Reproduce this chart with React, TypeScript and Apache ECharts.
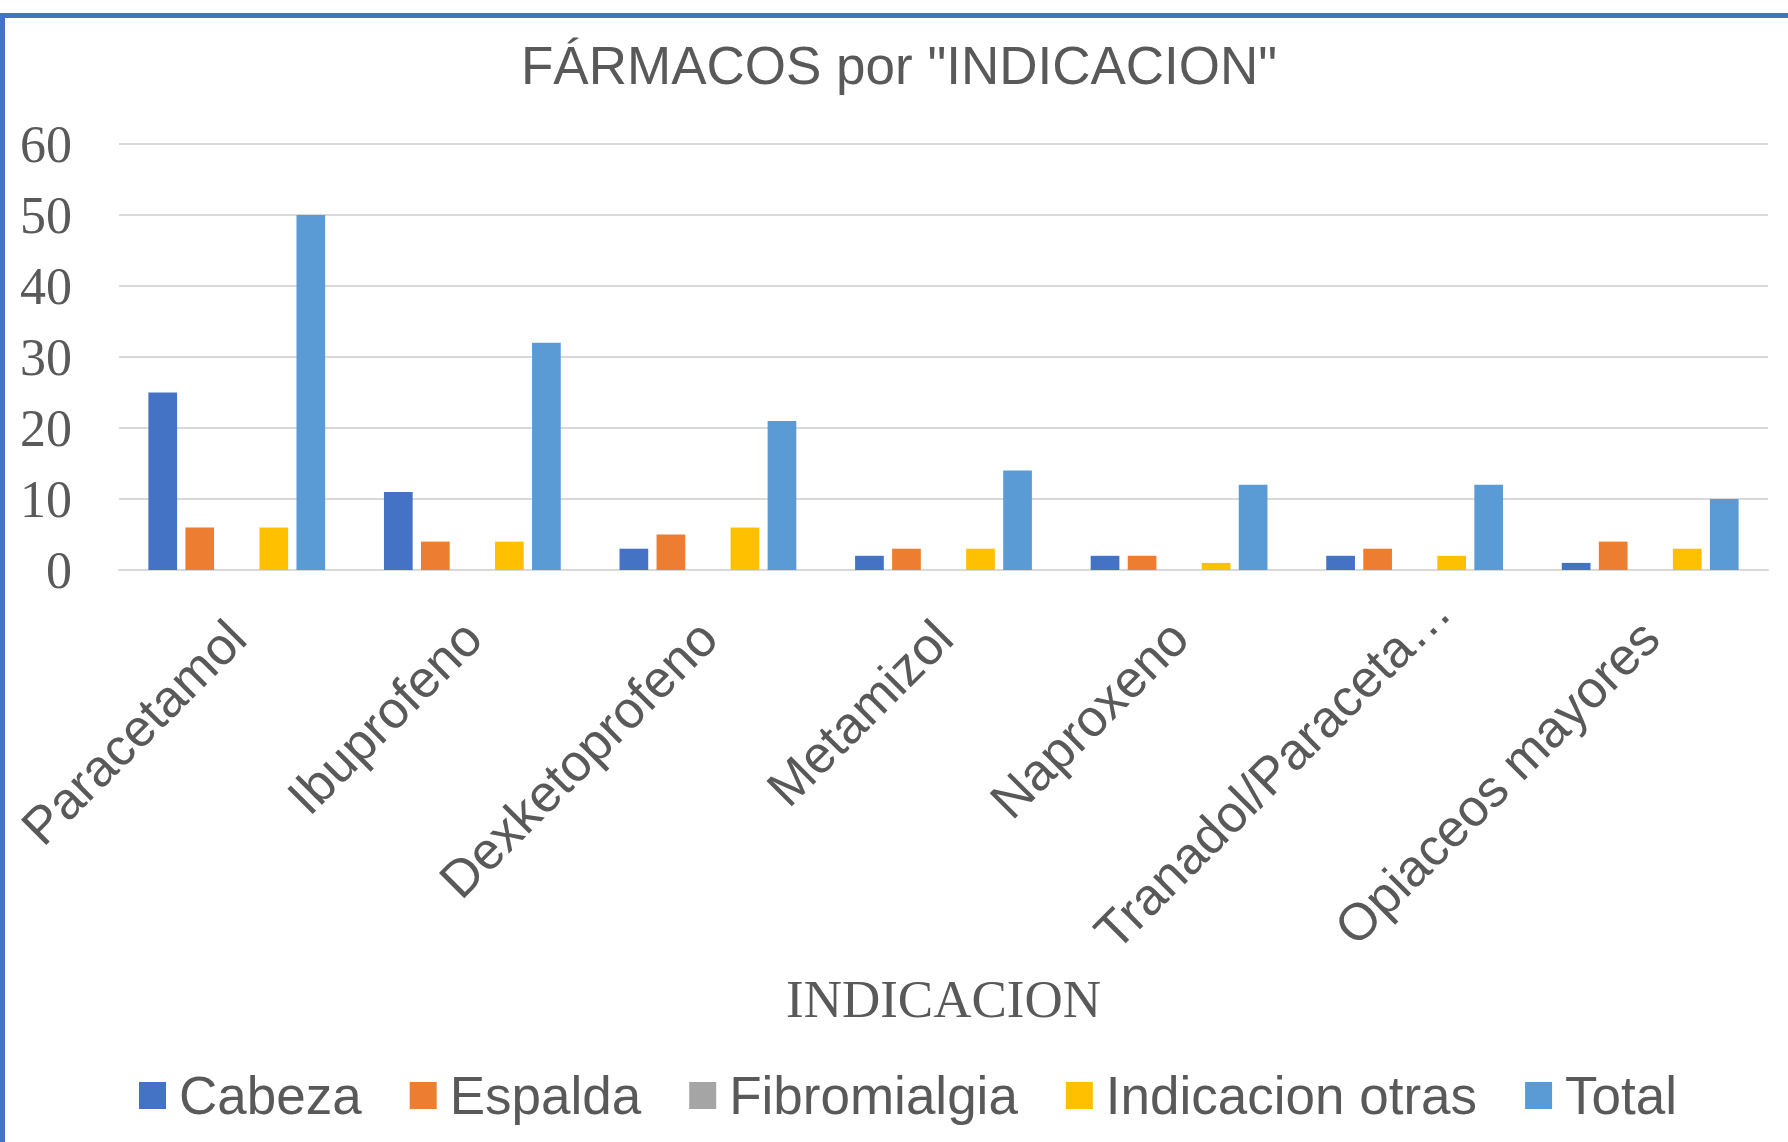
import React, { useEffect, useRef } from "react";
import * as echarts from "echarts";

const categories = [
  "Paracetamol",
  "Ibuprofeno",
  "Dexketoprofeno",
  "Metamizol",
  "Naproxeno",
  "Tranadol/Paraceta…",
  "Opiaceos mayores",
];
const seriesNames = ["Cabeza", "Espalda", "Fibromialgia", "Indicacion otras", "Total"];
const cabeza = [25, 11, 3, 2, 2, 2, 1];
const espalda = [6, 4, 5, 3, 2, 3, 4];
const fibromialgia = [0, 0, 0, 0, 0, 0, 0];
const indicacionOtras = [6, 4, 6, 3, 1, 2, 3];
const total = [50, 32, 21, 14, 12, 12, 10];
const colors = ["#4472C4", "#ED7D31", "#A5A5A5", "#FFC000", "#5B9BD5"];

const SANS = "'Liberation Sans', Arial, sans-serif";
const SERIF = "'Liberation Serif', 'Times New Roman', serif";
const GREY = "#595959";

export default function App() {
  const ref = useRef<HTMLDivElement>(null);

  useEffect(() => {
    document.body.style.margin = "0";
    if (!ref.current) return;
    const chart = echarts.init(ref.current, null, { renderer: "svg" });
    const values = [cabeza, espalda, fibromialgia, indicacionOtras, total];
    chart.setOption({
      animation: false,
      backgroundColor: "#ffffff",
      title: {
        text: 'FÁRMACOS por "INDICACION"',
        left: 521,
        top: 39,
        padding: 0,
        textStyle: { fontFamily: SANS, fontSize: 53, fontWeight: "normal", color: GREY },
      },
      legend: {
        data: seriesNames,
        left: 134,
        top: 1064,
        itemWidth: 27,
        itemHeight: 27,
        itemGap: 48,
        icon: "rect",
        textStyle: { fontFamily: SANS, fontSize: 53, color: GREY, padding: [0, 0, 0, 8] },
      },
      grid: { left: 119, right: 20, top: 144, bottom: 572, containLabel: false },
      xAxis: {
        type: "category",
        data: categories,
        name: "INDICACION",
        nameLocation: "middle",
        nameGap: 402,
        nameMoveOverlap: false,
        nameTextStyle: { fontFamily: SERIF, fontSize: 53, color: GREY },
        axisLine: { show: true, lineStyle: { color: "#D9D9D9", width: 2 } },
        axisTick: { show: false },
        axisLabel: {
          interval: 0,
          rotate: 45,
          margin: 59,
          verticalAlign: "middle",
          fontFamily: SANS,
          fontSize: 52,
          color: GREY,
          formatter: (value: string) =>
            value.endsWith("…") ? `{s|${value}}` : value,
          rich: {
            s: {
              width: 440,
              align: "left",
              overflow: "none",
              fontFamily: SANS,
              fontSize: 52,
              color: GREY,
            },
          },
        },
      },
      yAxis: {
        type: "value",
        min: 0,
        max: 60,
        interval: 10,
        axisLine: { show: false },
        axisTick: { show: false },
        axisLabel: { margin: 47, fontFamily: SERIF, fontSize: 52, color: GREY },
        splitLine: { lineStyle: { color: "#D9D9D9", width: 2 } },
      },
      series: seriesNames.map((name, i) => ({
        name,
        type: "bar",
        data: values[i],
        barWidth: 28.7,
        barGap: "29%",
        itemStyle: { color: colors[i] },
      })),
      graphic: [
        { type: "rect", shape: { x: 0, y: 13, width: 1788, height: 5 }, style: { fill: "#4472C4" }, z: 100 },
        { type: "rect", shape: { x: 0, y: 13, width: 5, height: 1129 }, style: { fill: "#4472C4" }, z: 100 },
      ],
    });
    return () => chart.dispose();
  }, []);

  return (
    <div
      ref={ref}
      style={{ position: "fixed", left: 0, top: 0, width: 1788, height: 1142 }}
    />
  );
}
